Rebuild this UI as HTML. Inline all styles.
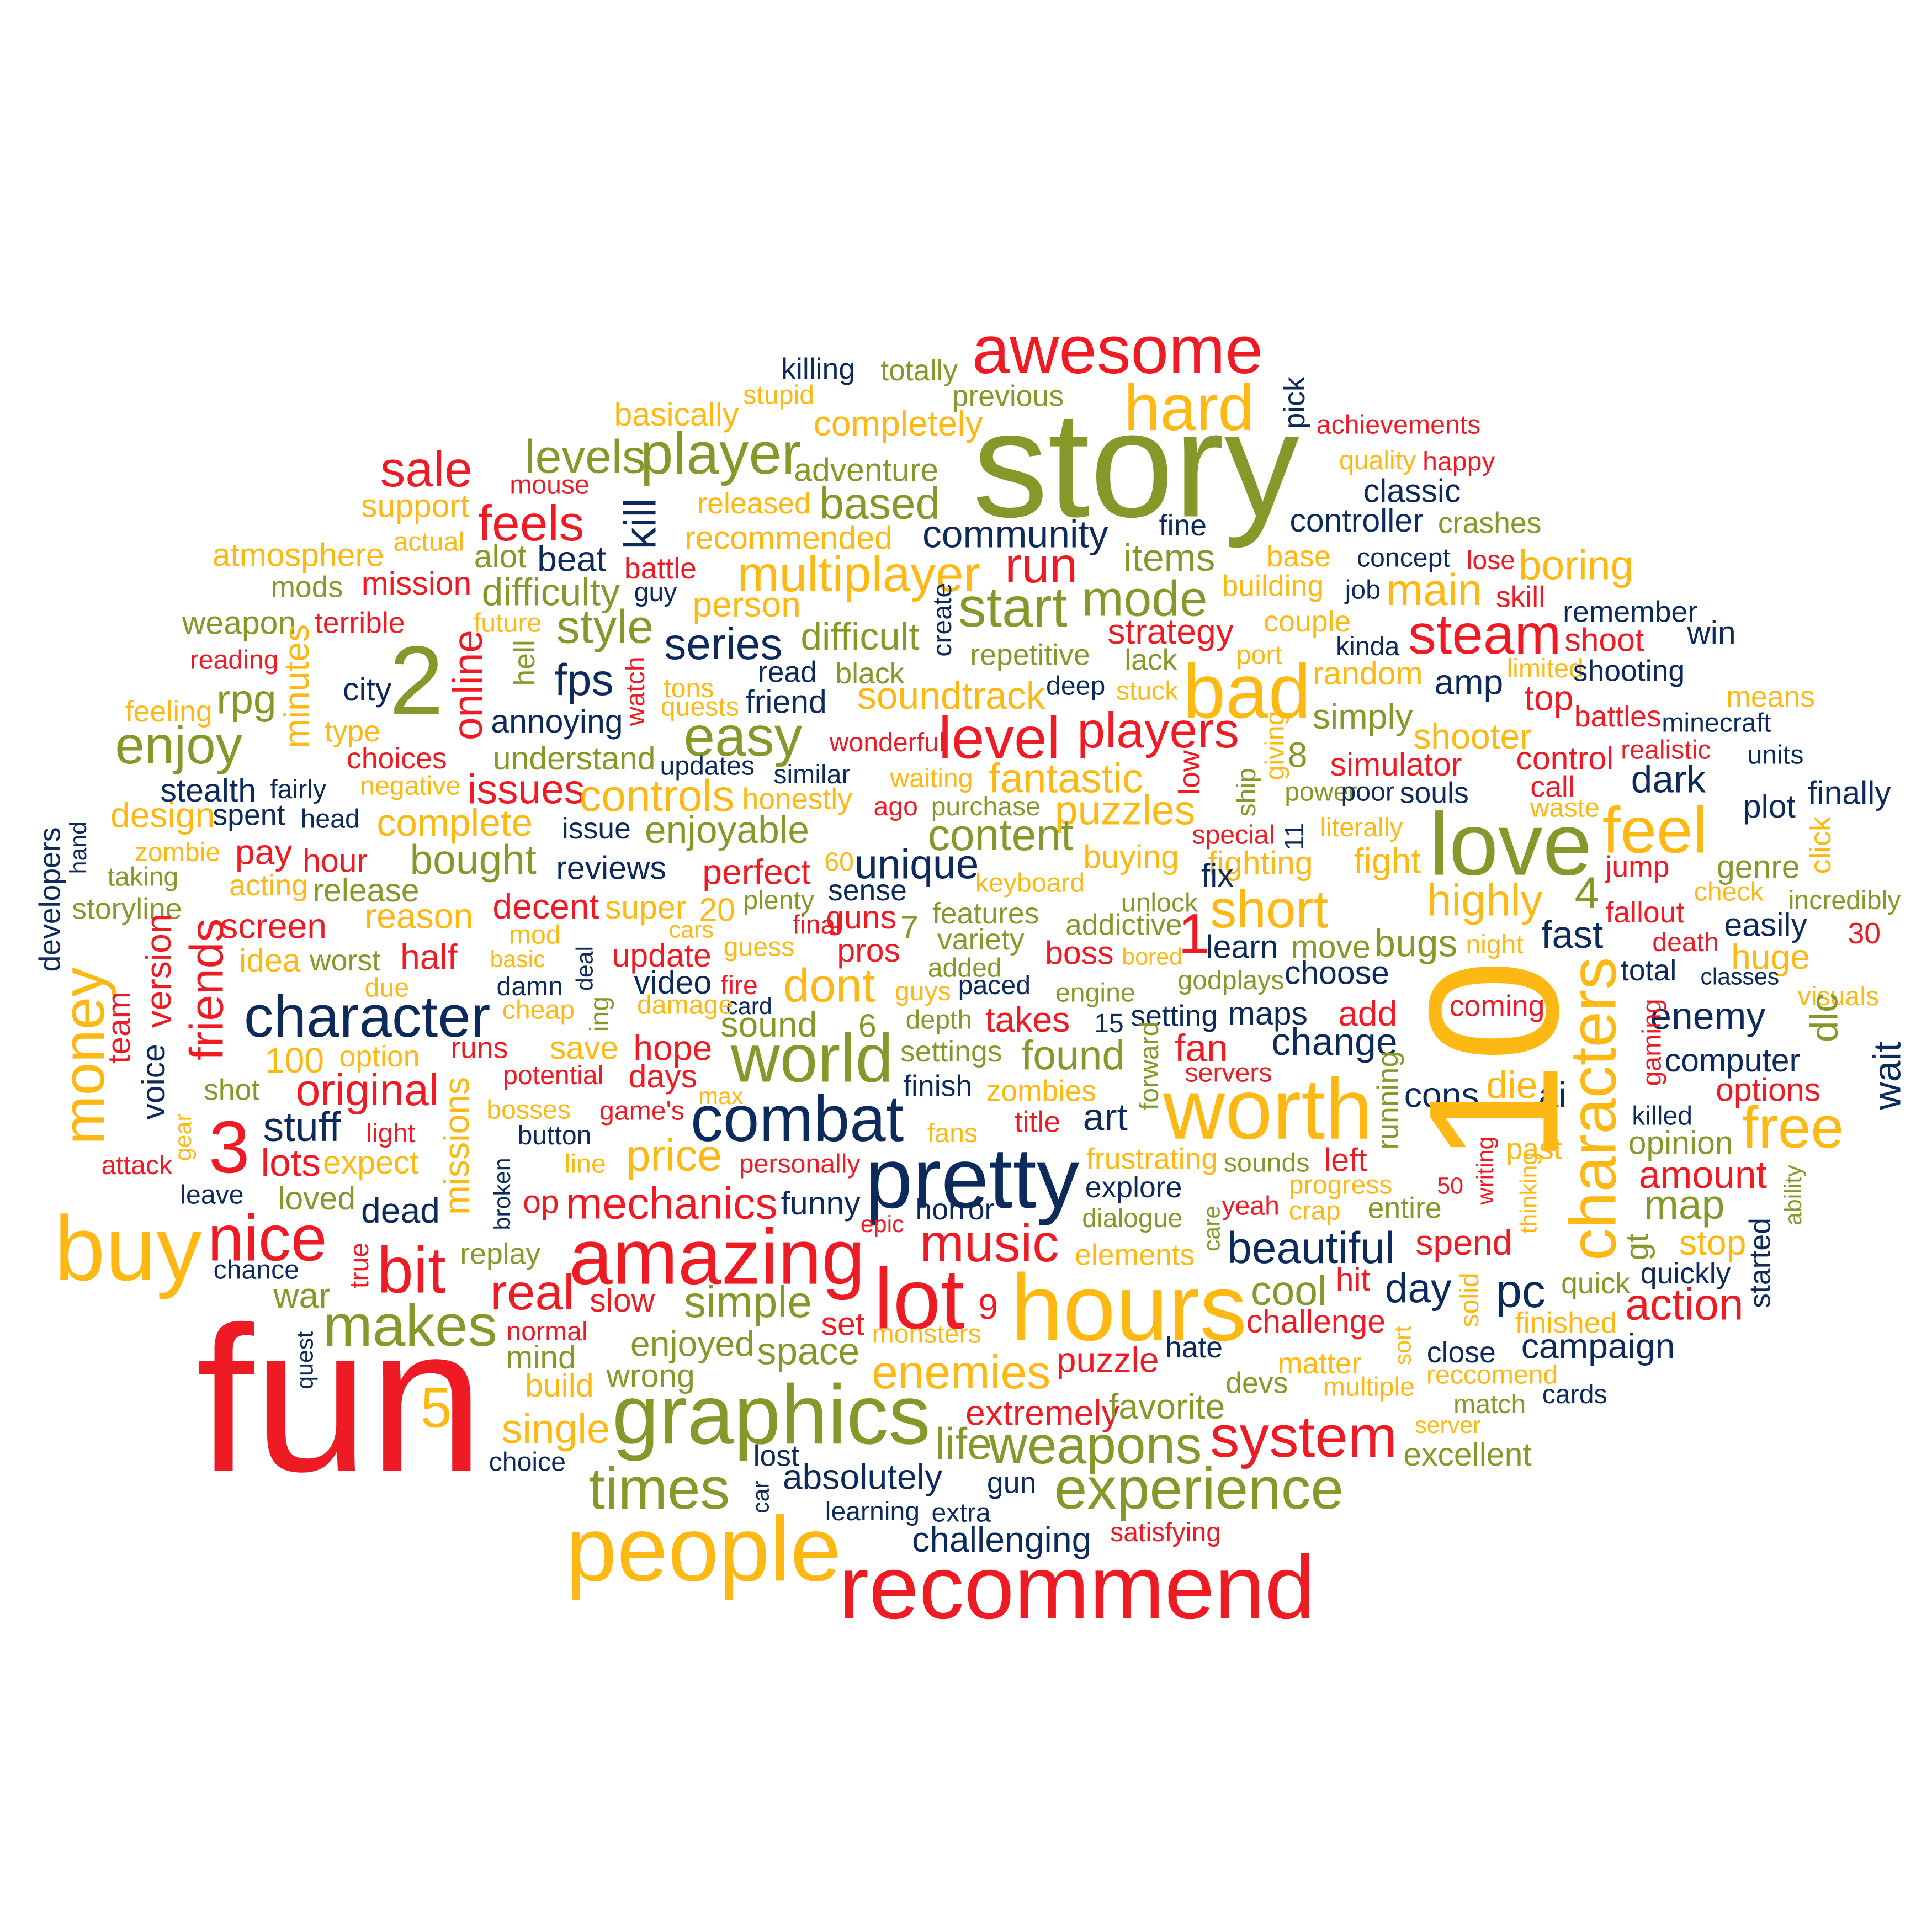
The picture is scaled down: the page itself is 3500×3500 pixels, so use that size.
<!DOCTYPE html>
<html><head><meta charset="utf-8"><style>
html,body{margin:0;padding:0;background:#fff;}
svg{display:block;}
text{font-family:"Liberation Sans",Arial,sans-serif;}
</style></head>
<body>
<svg id="cloud" width="3500" height="3500" viewBox="0 0 1568 1568" xmlns="http://www.w3.org/2000/svg">
<rect width="1568" height="1568" fill="#fff"/>
<g id="words"></g>
</svg>
<script>
// word | weight(font size) | color key | rotation
const entries = [
"awesome|283|907|46|r|0","killing|299|664|20|n|0","totally|300|746|20|o|0","pick|327|1050|20|n|1",
"stupid|320|632|18|g|0","previous|321|818|20|o|0","basically|336|549|22|g|0","completely|343|729|24|g|0",
"achievements|344|1135|18|r|0","hard|330|965|44|g|0","story|375|922|102|o|0","quality|373|1118|18|g|0",
"happy|374|1184|18|r|0","sale|380|346|34|r|0","mouse|393|446|18|r|0","levels|370|475|32|o|0",
"player|367|585|40|o|0","adventure|381|703|22|o|0","classic|398|1146|22|n|0","support|410|337|22|g|0",
"released|408|612|20|g|0","based|408|714|30|o|0","fine|426|960|20|n|0","controller|422|1101|22|n|0",
"crashes|424|1209|20|o|0","kill|425|519|30|n|1","feels|424|431|34|r|0","actual|439|348|18|g|0",
"recommended|436|640|22|g|0","community|433|824|26|n|0","base|451|1054|20|g|0","concept|452|1139|18|n|0",
"lose|454|1210|18|r|0","boring|458|1279|28|g|0","atmosphere|450|242|22|g|0","alot|451|406|22|o|0",
"beat|453|464|24|n|0","battle|461|536|20|r|0","multiplayer|465|697|34|g|0","run|458|845|34|r|0",
"items|452|949|26|o|0","building|475|1033|20|g|0","job|478|1106|18|n|0","main|478|1164|30|g|0",
"mods|476|249|20|o|0","mission|473|338|22|r|0","difficulty|480|447|26|o|0","guy|480|532|18|n|0",
"person|490|606|24|g|0","start|492|822|38|o|0","mode|485|929|34|o|0","skill|484|1234|20|r|0",
"weapon|505|194|22|o|0","terrible|505|292|20|r|0","future|505|412|18|g|0","style|508|491|32|o|0",
"difficult|516|698|26|o|0","create|503|764|18|n|1","couple|504|1061|20|g|0","remember|496|1323|20|n|0",
"steam|514|1205|38|r|0","reading|535|190|18|r|0","series|522|587|30|n|0","repetitive|531|836|20|o|0",
"strategy|512|950|24|r|0","port|531|1022|18|g|0","kinda|524|1110|18|n|0","shoot|519|1302|22|r|0",
"win|513|1389|22|n|0","2|551|338|66|o|0","minutes|557|240|24|g|1","online|556|379|28|r|1",
"hell|538|425|20|o|1","watch|561|515|18|r|1","fps|551|474|30|n|0","read|545|639|20|n|0",
"black|546|706|20|o|0","lack|535|934|20|o|0","bad|560|1012|52|g|0","random|546|1110|22|g|0",
"limited|542|1254|18|g|0","shooting|544|1322|20|n|0","city|559|298|22|n|0","tons|558|559|18|g|0",
"quests|573|568|18|g|0","friend|569|638|22|n|0","soundtrack|564|772|26|g|0","deep|556|873|18|n|0",
"stuck|560|931|18|g|0","amp|553|1192|24|n|0","means|565|1437|20|g|0","feeling|577|137|20|g|0",
"rpg|567|200|28|o|0","annoying|585|452|22|n|0","easy|597|603|38|o|0","wonderful|602|720|18|r|0",
"level|598|811|40|r|0","players|592|940|34|r|0","simply|581|1106|24|o|0","top|566|1257|24|r|0",
"battles|581|1313|20|r|0","minecraft|586|1393|18|n|0","enjoy|604|145|36|o|0","type|593|286|20|g|0",
"choices|615|322|20|r|0","understand|615|466|22|o|0","updates|621|574|18|n|0","giving|605|1034|18|g|1",
"8|612|1053|24|o|0","shooter|597|1195|24|g|0","simulator|620|1133|22|r|0","control|615|1270|22|r|0",
"realistic|608|1352|18|r|0","units|612|1441|18|n|0","stealth|641|169|22|n|0","fairly|640|242|18|n|0",
"negative|637|333|18|g|0","issues|640|427|28|r|0","controls|645|533|30|g|0","similar|628|659|18|n|0",
"waiting|631|756|18|g|0","fantastic|631|865|28|g|0","low|627|965|20|r|1","ship|643|1011|18|o|1",
"power|642|1072|18|o|0","poor|642|1110|18|n|0","souls|643|1164|20|n|0","call|638|1260|20|r|0",
"dark|632|1354|26|n|0","design|661|132|24|g|0","spent|661|202|20|n|0","head|664|268|18|n|0",
"complete|667|369|26|g|0","honestly|648|647|20|g|0","ago|654|727|18|r|0","purchase|654|800|18|o|0",
"puzzles|657|913|28|g|0","literally|671|1105|18|g|0","waste|655|1270|18|g|0","finally|643|1501|22|n|0",
"plot|654|1436|22|n|0","developers|730|40|20|n|1","hand|688|63|16|n|1","zombie|691|144|18|g|0",
"pay|691|214|24|r|0","hour|698|272|22|r|0","issue|672|484|20|n|0","enjoyable|673|590|26|o|0",
"content|677|812|30|o|0","special|677|1001|18|r|0","11|679|1050|18|n|1","love|684|1226|60|o|0",
"feel|673|1343|44|g|0","click|686|1477|20|g|1","taking|711|116|18|o|0","bought|697|384|28|o|0",
"reviews|704|496|22|n|0","60|699|681|18|g|0","unique|701|744|28|n|0","buying|695|918|22|g|0",
"fighting|700|1023|22|g|0","fight|698|1126|24|g|0","jump|703|1329|20|r|0","genre|703|1427|22|o|0",
"acting|718|218|20|g|0","release|722|297|22|o|0","perfect|707|614|24|r|0","keyboard|716|836|18|g|0",
"fix|710|988|22|n|0","check|723|1403|18|g|0","incredibly|730|1497|18|o|0","storyline|737|103|20|o|0",
"plenty|730|632|18|o|0","sense|722|704|20|n|0","unlock|732|941|18|o|0","short|737|1030|36|g|0",
"highly|730|1205|30|g|0","4|724|1288|30|o|0","reason|743|340|24|g|0","decent|735|443|24|r|0",
"super|736|524|22|g|0","20|738|582|22|g|0","features|741|800|20|o|0","addictive|750|912|20|o|0",
"1|757|969|38|r|0","final|750|663|18|r|0","guns|744|699|22|r|0","7|752|738|22|o|0",
"fallout|740|1335|20|r|0","easily|750|1433|22|n|0","friends|803|167|32|r|1","version|788|128|24|r|1",
"screen|751|222|24|r|0","cars|754|561|16|g|0","mod|758|434|18|g|0","variety|762|796|20|o|0",
"boss|773|876|22|r|0","bored|776|935|16|g|0","learn|768|1008|22|n|0","move|768|1080|22|o|0",
"bugs|765|1149|26|o|0","night|766|1213|18|g|0","fast|758|1276|26|n|0","death|764|1368|18|r|0",
"30|757|1513|20|r|0","money|857|67|40|g|1","idea|779|219|22|g|0","worst|779|280|20|o|0",
"half|776|348|24|r|0","basic|778|420|16|g|0","update|775|537|22|r|0","guess|768|616|18|g|0",
"pros|771|705|22|r|0","added|785|783|18|o|0","godplays|795|999|18|o|0","choose|789|1085|22|n|0",
"huge|776|1437|24|g|0","team|834|96|22|r|1","due|801|314|18|g|0","damn|800|430|18|n|0",
"deal|786|474|16|n|1","video|797|546|22|n|0","fire|799|600|18|r|0","card|816|608|16|n|0",
"dont|799|673|32|g|0","guys|804|749|18|g|0","paced|799|807|18|n|0","engine|805|889|18|o|0",
"total|787|1338|20|n|0","classes|792|1412|16|n|0","visuals|808|1492|18|g|0","character|824|298|40|n|0",
"cheap|819|437|18|g|0","ing|823|486|18|o|1","damage|815|556|18|g|0","sound|831|624|24|o|0",
"6|832|704|22|o|0","depth|827|762|18|o|0","takes|827|834|24|r|0","15|830|900|18|n|0",
"setting|824|953|20|n|0","maps|822|1029|22|n|0","add|822|1110|24|r|0","coming|816|1215|20|r|0",
"enemy|824|1386|26|n|0","gaming|846|1340|18|r|1","dlc|826|1480|26|o|1","100|860|239|24|g|0",
"option|857|308|20|g|0","runs|850|389|20|r|0","save|850|474|22|g|0","hope|850|546|24|r|0",
"world|858|659|46|o|0","settings|853|772|20|o|0","found|856|871|28|o|0","forward|865|932|18|o|1",
"fan|850|975|26|r|0","change|845|1083|26|n|0","characters|900|1292|44|g|1","voice|878|124|22|n|1",
"wait|873|1531|26|n|1","computer|860|1406|22|n|0","shot|884|188|20|o|0","original|884|298|30|r|0",
"potential|872|449|18|r|0","days|873|538|22|r|0","servers|870|997|18|r|0","running|893|1126|20|o|1",
"finish|881|761|20|n|0","zombies|885|845|20|g|0","art|906|897|26|n|0","missions|930|370|24|g|1",
"die|880|1227|26|g|0","cons|888|1170|24|n|0","ai|888|1260|24|n|0","options|884|1435|22|r|0",
"3|930|186|50|r|0","stuff|914|245|28|n|0","light|919|317|18|r|0","bosses|900|429|18|g|0",
"max|889|585|16|g|0","game's|901|521|18|r|0","combat|907|647|44|n|0","title|910|842|20|r|0",
"killed|905|1349|18|n|0","free|914|1455|40|g|0","gear|923|148|16|g|1","lots|943|236|26|r|0",
"expect|943|301|22|g|0","button|921|450|18|n|0","line|944|475|18|g|0","price|937|547|30|g|0",
"fans|919|773|18|g|0","pretty|955|789|58|n|0","worth|899|1029|58|g|0","opinion|927|1364|22|o|0",
"past|932|1245|20|g|0","personally|944|649|18|r|0","attack|945|111|18|r|0","leave|969|172|18|n|0",
"broken|969|407|16|n|1","frustrating|940|935|20|g|0","sounds|943|1028|18|o|0","left|941|1092|22|r|0",
"writing|950|1205|16|r|1","thinking|968|1240|16|g|1","amount|953|1382|26|r|0","ability|970|1455|16|o|1",
"buy|1012|104|62|g|0","nice|1004|217|44|r|0","loved|972|257|22|o|0","dead|982|325|24|n|0",
"op|975|439|22|r|0","mechanics|976|545|30|r|0","funny|976|666|22|n|0","horror|981|775|20|n|0",
"explore|963|920|20|n|0","progress|961|1088|18|g|0","crap|982|1067|18|g|0","entire|980|1140|20|o|0",
"50|962|1177|16|r|0","map|977|1367|28|o|0","chance|1030|208|18|n|0","replay|1017|406|20|o|0",
"true|1027|291|18|r|1","bit|1030|334|44|r|0","amazing|1019|582|53|r|0","epic|993|716|16|r|0",
"music|1008|803|36|r|0","dialogue|988|919|18|o|0","care|997|983|16|o|1","yeah|978|1015|18|r|0",
"gt|1012|1328|22|o|1","stop|1008|1390|24|g|0","started|1025|1428|20|n|1","elements|1018|921|20|g|0",
"beautiful|1012|1064|30|n|0","spend|1008|1188|24|r|0","quickly|1033|1368|20|n|0","war|1051|245|24|o|0",
"makes|1075|333|40|o|0","real|1048|432|34|r|0","simple|1056|607|30|o|0","lot|1053|746|58|r|0",
"hours|1060|916|64|g|0","9|1060|802|24|r|0","hit|1038|1098|22|r|0","cool|1047|1046|28|o|0",
"day|1045|1151|28|n|0","pc|1047|1234|32|n|0","quick|1041|1295|20|o|0","action|1058|1367|30|r|0",
"solid|1055|1192|18|g|1","normal|1080|444|18|r|0","slow|1055|505|22|r|0","set|1074|684|22|r|0",
"monsters|1082|752|18|g|0","challenge|1072|1068|22|r|0","sort|1092|1138|16|g|1","finished|1073|1271|20|g|0",
"campaign|1092|1297|24|n|0","quest|1104|247|16|n|1","mind|1101|439|22|o|0","enjoyed|1090|562|24|o|0",
"space|1096|656|26|o|0","enemies|1113|780|32|g|0","puzzle|1103|899|24|r|0","hate|1093|969|20|n|0",
"matter|1106|1071|20|g|0","close|1097|1186|20|n|0","reccomend|1115|1211|18|g|0","5|1142|354|38|g|0",
"build|1124|454|22|g|0","wrong|1116|528|22|o|0","graphics|1147|626|57|o|0","extremely|1146|846|24|r|0",
"favorite|1141|947|24|o|0","devs|1122|1020|20|o|0","multiple|1125|1111|18|g|0","match|1139|1209|18|o|0",
"cards|1131|1278|18|n|0","single|1159|451|28|g|0","system|1165|1058|40|r|0","server|1156|1175|16|g|0",
"life|1171|782|30|o|0","weapons|1172|889|36|o|0","excellent|1180|1191|22|o|0","choice|1186|428|18|n|0",
"lost|1181|630|20|n|0","absolutely|1198|700|24|n|0","gun|1203|821|20|n|0","times|1207|535|40|o|0",
"experience|1207|973|40|o|0","car|1215|617|16|n|1","extra|1227|780|18|n|0","learning|1226|708|18|n|0",
"challenging|1249|813|24|n|0","satisfying|1243|946|18|r|0","people|1256|571|62|g|0","recommend|1287|874|61|r|0",
"fun|1133|276|140|r|0","10|862|1210|125|g|1"
];
const colorKeys = {r:"#ee1b24", o:"#87982a", g:"#fdb813", n:"#0c2b5c"};
const words = entries.map(e => e.split("|")[0]);
const sizes = entries.map(e => +e.split("|")[3]);

const g = document.getElementById("words");
entries.forEach((e, i) => {
  const p = e.split("|");
  const cy = +p[1], cx = +p[2], rot = p[5] === "1";
  const fs = sizes[i] * 1.2;
  const t = document.createElementNS("http://www.w3.org/2000/svg", "text");
  t.setAttribute("text-anchor", "middle");
  t.setAttribute("font-size", fs.toFixed(1));
  t.setAttribute("fill", colorKeys[p[4]]);
  t.setAttribute("x", 0);
  t.setAttribute("y", (fs * 0.36).toFixed(1));
  t.setAttribute("transform", "translate(" + cx + "," + cy + ")" + (rot ? " rotate(-90)" : ""));
  t.textContent = words[i];
  
  
  g.appendChild(t);
});
</script>
</body></html>
